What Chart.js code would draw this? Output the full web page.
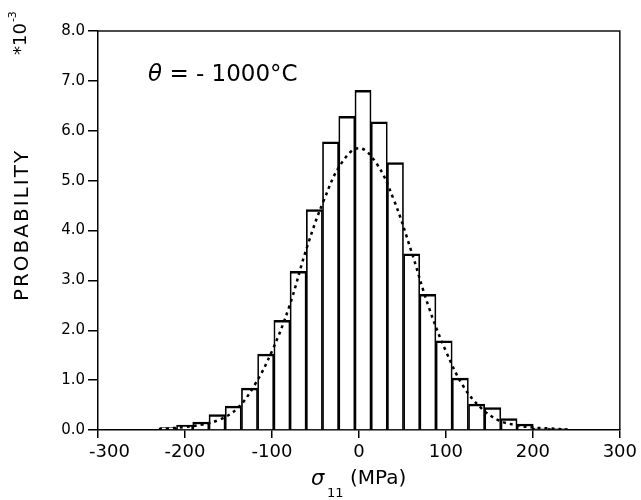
<!DOCTYPE html>
<html>
<head>
<meta charset="utf-8">
<script src="https://cdn.jsdelivr.net/npm/chart.js@4/dist/chart.umd.min.js"></script>
<style>
html,body{margin:0;padding:0;background:#fff;}
#wrap{width:641px;height:500px;}
</style>
</head>
<body>
<div id="wrap"><canvas id="c" width="641" height="500"></canvas></div>
<script>
// Histogram bin centres (MPa)
const binCenters = [-219.1,-200.4,-181.8,-163.1,-144.5,-125.8,-107.2,-88.5,-69.9,-51.2,-32.6,-13.9,4.7,23.4,42.0,60.7,79.3,98.0,116.6,135.3,153.9,172.6,191.2,209.9,228.5];
// Probability (x 10^-3)
const binProb = [0.05,0.10,0.16,0.31,0.48,0.84,1.52,2.20,3.18,4.42,5.78,6.29,6.81,6.18,5.36,3.53,2.72,1.79,1.04,0.52,0.45,0.23,0.12,0.04,0.03];
// Fitted curve
const curveX = [-230,-220,-200,-180,-160,-140,-120,-100,-80,-60,-40,-20,0,20,40,60,80,100,120,140,160,180,200,220,240];
const curveY = [0.02,0.03,0.06,0.11,0.21,0.43,0.90,1.58,2.48,3.65,4.62,5.35,5.65,5.35,4.62,3.60,2.48,1.58,0.88,0.45,0.20,0.10,0.05,0.03,0.01];
const xTicks = [-300,-200,-100,0,100,200,300];
const yTicks = [0,1,2,3,4,5,6,7,8];

const FONT = "'DejaVu Sans', sans-serif";

const decor = {
  id: 'decor',
  afterDraw(chart) {
    const ctx = chart.ctx;
    const a = chart.chartArea;
    ctx.save();
    // frame top & right
    ctx.strokeStyle = '#111';
    ctx.lineWidth = 1.5;
    ctx.beginPath();
    ctx.moveTo(a.left, a.top);
    ctx.lineTo(a.right, a.top);
    ctx.lineTo(a.right, a.bottom);
    ctx.stroke();

    ctx.fillStyle = '#000';
    // annotation
    ctx.textBaseline = 'alphabetic';
    ctx.textAlign = 'left';
    ctx.font = "italic 23px " + FONT;
    ctx.fillText('θ', 148, 81);
    const tw = ctx.measureText('θ').width;
    ctx.font = "23px " + FONT;
    ctx.fillText(' = - 1000°C', 148 + tw, 81);

    // x title
    ctx.font = "italic 21px " + FONT;
    ctx.fillText('σ', 311, 485);
    ctx.font = "13px " + FONT;
    ctx.fillText('11', 327, 497);
    ctx.font = "20px " + FONT;
    ctx.fillText('(MPa)', 350, 484);

    // y title
    ctx.save();
    ctx.translate(28, 225);
    ctx.rotate(-Math.PI / 2);
    ctx.font = "20px " + FONT;
    ctx.textAlign = 'center';
    try { ctx.letterSpacing = '2px'; } catch (e) {}
    ctx.fillText('PROBABILITY', 0, 0);
    ctx.restore();

    // *10^-3
    ctx.save();
    ctx.translate(26, 55);
    ctx.rotate(-Math.PI / 2);
    ctx.font = "18px " + FONT;
    ctx.textAlign = 'left';
    ctx.fillText('*10', 0, 0);
    const w = ctx.measureText('*10').width;
    ctx.font = "11px " + FONT;
    ctx.fillText('-3', w + 1, -10);
    ctx.restore();

    ctx.restore();
  }
};

new Chart(document.getElementById('c'), {
  type: 'bar',
  data: {
    datasets: [
      {
        type: 'line',
        data: curveX.map((x, i) => ({x: x, y: curveY[i]})),
        borderColor: '#000',
        borderWidth: 2.5,
        borderDash: [3, 4],
        pointRadius: 0,
        tension: 0.4,
        fill: false,
        order: 0
      },
      {
        type: 'bar',
        data: binCenters.map((x, i) => ({x: x, y: binProb[i]})),
        backgroundColor: '#fff',
        borderColor: '#000',
        borderWidth: {top: 2.5, left: 1.7, right: 1.7, bottom: 0},
        borderSkipped: false,
        barPercentage: 1.0,
        categoryPercentage: 1.0,
        order: 1
      }
    ]
  },
  options: {
    responsive: false,
    animation: false,
    events: [],
    layout: {padding: {left: 0, right: 17, top: 31, bottom: 0}},
    plugins: {legend: {display: false}, tooltip: {enabled: false}},
    scales: {
      x: {
        type: 'linear',
        offset: false,
        min: -300, max: 300,
        afterBuildTicks: (s) => { s.ticks = xTicks.map(v => ({value: v})); },
        afterFit: (s) => { s.height = 70; },
        grid: {display: true, offset: false, drawOnChartArea: false, drawTicks: true, tickLength: 8, color: '#000', lineWidth: 1.5},
        border: {display: true, color: '#000', width: 1.5},
        ticks: {color: '#000', font: {family: FONT, size: 18}, padding: 4, maxRotation: 0, autoSkip: false,
          callback: (v) => (v === -300 ? '    -300' : String(v))}
      },
      y: {
        type: 'linear',
        min: 0, max: 8,
        afterBuildTicks: (s) => { s.ticks = yTicks.map(v => ({value: v})); },
        afterFit: (s) => { s.width = 98; },
        grid: {display: true, drawOnChartArea: false, drawTicks: true, tickLength: 10, color: '#000', lineWidth: 1.5},
        border: {display: true, color: '#000', width: 1.5},
        ticks: {color: '#000', font: {family: FONT, size: 15}, padding: 3,
          callback: (v) => Number(v).toFixed(1)}
      }
    }
  },
  plugins: [decor]
});
</script>
</body>
</html>
